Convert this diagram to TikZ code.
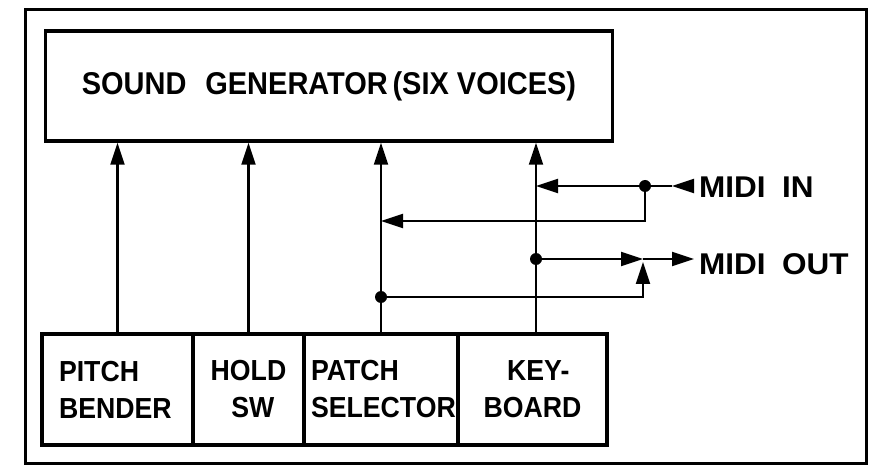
\documentclass[tikz,border=0pt]{standalone}
\usepackage{fontspec}
\setmainfont{Liberation Sans}
\newfontfamily\boxfont[FakeStretch=0.92]{Liberation Sans}
\newfontfamily\midifont[FakeStretch=1.05]{Liberation Sans}
\usetikzlibrary{arrows.meta}
\tikzset{
  blk/.style={draw, line width=3.5pt, minimum height=111pt, inner sep=0pt,
    font=\boxfont\bfseries\fontsize{29}{37}\selectfont},
  conn/.style={line width=2.2pt},
  arr/.style={-{Triangle[length=22pt,width=14pt]}},
  miditext/.style={anchor=base west, inner sep=0pt,
    font=\midifont\bfseries\fontsize{30}{34}\selectfont},
  jdot/.style={fill=black}
}
\begin{document}
\begin{tikzpicture}[x=1pt,y=-1pt]
\useasboundingbox (0,0) rectangle (876,465);
\draw[line width=3pt] (25,10) rectangle (866,463);
% sound generator
\node[blk, minimum width=567pt, minimum height=110pt,
  font=\boxfont\bfseries\fontsize{31.5}{36}\selectfont] (sg) at (329,86)
  {SOUND\hspace{0.6em}GENERATOR\hspace{0.15em}(SIX VOICES)};
% bottom boxes
\node[blk, minimum width=151pt, text width=117pt, align=left] (pb) at (117.5,389.5) {PITCH\\BENDER};
\node[blk, minimum width=111pt, text width=100pt, align=center] (hs) at (248.5,389.5) {HOLD\\\hspace{0.3em}SW};
\node[blk, minimum width=154pt, text width=140pt, align=left] (ps) at (381,389.5) {PATCH\\SELECTOR};
\node[blk, minimum width=149pt, text width=130pt, align=center] (kb) at (532.5,389.5) {\hspace{0.4em}KEY-\\BOARD};
% MIDI labels
\node[miditext] (midiin) at (699,198) {MIDI\hspace{0.55em}IN};
\node[miditext] (midiout) at (699,275) {MIDI\hspace{0.55em}OUT};
% vertical connectors
\coordinate (kbx) at ([xshift=3.5pt]kb.north);
\draw[conn,arr] (pb.north) -- (pb.north |- sg.south);
\draw[conn,arr] (hs.north) -- (hs.north |- sg.south);
\draw[conn,arr] (ps.north) -- (ps.north |- sg.south);
\draw[conn,arr] (kbx) -- (kbx |- sg.south);
% MIDI IN
\coordinate (inA) at (694,186);
\coordinate (inTip) at (672,186);
\coordinate (inDot) at (645,186);
\coordinate (inLow) at (645,221);
\draw[conn,arr] (inA) -- (inTip);
\draw[conn] (inTip) -- (inDot);
\draw[conn,arr] (inDot) -- (inDot -| kbx);
\draw[conn,arr] (inDot) -- (inLow) -- (inLow -| ps.north);
\fill[jdot] (inDot) circle (6pt);
% MIDI OUT
\coordinate (outY) at (0,259);
\coordinate (outDotA) at (kbx |- outY);
\coordinate (J) at (643,259);
\coordinate (Jb) at (643,297);
\coordinate (outTip) at (694,259);
\coordinate (outDotB) at (ps.north |- Jb);
\draw[conn,arr] (outDotA) -- (J);
\draw[conn,arr] (J) -- (outTip);
\draw[conn,arr] (outDotB) -- (Jb) -- ([yshift=-3pt]J);
\fill[jdot] (outDotA) circle (6pt);
\fill[jdot] (outDotB) circle (6pt);
\end{tikzpicture}
\end{document}
